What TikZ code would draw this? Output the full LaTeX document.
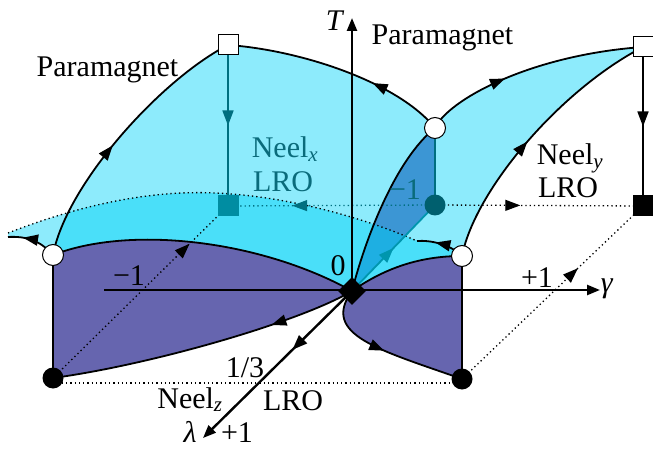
\documentclass[tikz,border=0pt]{standalone}
\usepackage{fontspec}
\setmainfont{Liberation Serif}
\usetikzlibrary{arrows.meta,decorations.markings,shapes.geometric,calc}
\definecolor{lcyan}{HTML}{8DEBFC}
\definecolor{bcyan}{HTML}{4ADFF9}
\definecolor{purp}{HTML}{6665AF}
\definecolor{lensup}{HTML}{3C96D4}
\definecolor{lenslow}{HTML}{1EAFE2}
\definecolor{tealtxt}{HTML}{0A6B7B}
\definecolor{tealline}{HTML}{006F80}
\definecolor{tealdot}{HTML}{005F6E}
\definecolor{tealsq}{HTML}{008DA2}
\definecolor{cyanline}{HTML}{0096AE}
\tikzset{
  tip/.style={-{Triangle[length=13pt,width=10pt]}},
  midarrow/.style={postaction={decorate},decoration={markings,mark=at position #1 with {\arrow{Triangle[length=15pt,width=11pt]}}}},
  curve/.style={line width=1.8pt,black},
  axis/.style={line width=2.4pt,black},
  dots/.style={line width=1.3pt,dash pattern=on 1.3pt off 3pt},
  wcirc/.style={circle,draw=black,line width=1pt,fill=white,minimum size=21pt,inner sep=0pt},
  bcirc/.style={circle,fill=black,minimum size=21pt,inner sep=0pt},
  tcirc/.style={circle,fill=tealdot,minimum size=21pt,inner sep=0pt},
  wsq/.style={rectangle,draw=black,line width=1pt,fill=white,minimum size=20pt,inner sep=0pt},
  bsq/.style={rectangle,fill=black,minimum size=21pt,inner sep=0pt},
  tsq/.style={rectangle,fill=tealsq,minimum size=21pt,inner sep=0pt},
  dia/.style={diamond,fill=black,minimum width=28pt,minimum height=28pt,inner sep=0pt},
  lbl/.style={font=\fontsize{30}{32}\selectfont,inner sep=0pt,anchor=base},
}
\begin{document}
\begin{tikzpicture}[x=1pt,y=-1pt]
\useasboundingbox (0,0) rectangle (653,449);
% key points
\coordinate (O) at (352,291);
\coordinate (LW) at (53,255);
\coordinate (LB) at (53,378);
\coordinate (RW) at (462,256);
\coordinate (RB) at (462,379);
\coordinate (CW) at (435,128);
\coordinate (TC) at (435,205);
\coordinate (SQ1) at (228,45);
\coordinate (TS) at (228,206);
\coordinate (SQ2) at (643,47);
\coordinate (BS) at (643,206);
\coordinate (LA) at (8,237);
\coordinate (RA) at (417,241);
\coordinate (DL) at (8,233);
\coordinate (DM) at (215,193);
\coordinate (Ttip) at (352,18);
\coordinate (Gl) at (104,290);
\coordinate (Gr) at (600,290);
\coordinate (Ltip) at (203,438);
\def\regionM{(LW) .. controls (66,185) and (160,80) .. (SQ1)
  .. controls (300,50) and (398,82) .. (CW)
  .. controls (448,100) and (530,55) .. (SQ2)
  .. controls (560,90) and (475,190) .. (RW)
  .. controls (420,256) and (385,268) .. (O)
  .. controls (260,240) and (130,225) .. (LW) -- cycle}
\def\regionD{(DL) .. controls (80,205) and (150,190) .. (DM)
  .. controls (290,196) and (370,220) .. (RA)
  .. controls (430,240) and (450,244) .. (RW)
  .. controls (420,256) and (385,268) .. (O)
  .. controls (260,240) and (130,225) .. (LW)
  .. controls (40,240) and (25,236) .. (LA) -- cycle}
\def\regionL{(O) .. controls (365,240) and (395,160) .. (CW) -- (TC) -- cycle}
% fills
\fill[lcyan] \regionM;
\fill[lcyan] \regionD;
\begin{scope}
  \clip \regionM;
  \fill[bcyan] \regionD;
\end{scope}
\fill[lensup] \regionL;
\begin{scope}
  \clip \regionL;
  \fill[lenslow] \regionD;
\end{scope}
\fill[purp] (LW) .. controls (130,225) and (260,240) .. (O)
  .. controls (300,322) and (150,365) .. (LB) -- cycle;
\fill[purp] (O) .. controls (385,268) and (420,256) .. (RW) -- (RB)
  .. controls (380,350) and (320,335) .. (O) -- cycle;
% dotted lines
\draw[dots] (DL) .. controls (80,205) and (150,190) .. (DM)
  .. controls (290,196) and (370,220) .. (RA);
\draw[dots,midarrow=0.78] (LB) -- (TS);
\draw[dots,midarrow=0.64] (RB) -- (BS);
\draw[dots] ($(LB)+(0,5)$) -- ($(RB)+(0,4)$);
\draw[dots,tealline,midarrow=0.69] (TC) -- (TS);
\draw[dots,midarrow=0.41] (TC) -- (BS);
% teal/black vertical lines
\draw[line width=1.6pt,tealline,midarrow=0.5] (SQ1) -- (TS);
\draw[line width=1.6pt,black,midarrow=0.5] (SQ2) -- (BS);
\draw[line width=1.6pt,tealline] (CW) -- (TC);
\draw[line width=1.8pt,cyanline,midarrow=0.5] (O) -- (TC);
% axes
\draw[axis,tip] (O) -- (Ttip);
\draw[axis,tip] (Gl) -- (Gr);
\draw[axis,tip,midarrow=0.4] (O) -- (Ltip);
% boundary curves
\draw[curve,midarrow=0.45] (LW) .. controls (66,185) and (160,80) .. (SQ1);
\draw[curve,midarrow=0.34] (CW) .. controls (398,82) and (300,50) .. (SQ1);
\draw[curve,midarrow=0.38] (CW) .. controls (448,100) and (530,55) .. (SQ2);
\draw[curve,midarrow=0.47] (RW) .. controls (475,190) and (560,90) .. (SQ2);
\draw[curve] (O) .. controls (365,240) and (395,160) .. (CW);
\draw[curve] (LW) .. controls (130,225) and (260,240) .. (O);
\draw[curve] (O) .. controls (385,268) and (420,256) .. (RW);
\draw[curve,midarrow=0.28] (O) .. controls (300,322) and (150,365) .. (LB);
\draw[curve,midarrow=0.5] (O) .. controls (320,335) and (380,350) .. (RB);
\draw[curve,midarrow=0.7] (LW) .. controls (40,240) and (25,236) .. (LA);
\draw[curve,midarrow=0.62] (RW) .. controls (450,244) and (430,240) .. (RA);
\draw[curve] (LW) -- (LB);
\draw[curve] (RW) -- (RB);
% markers
\node[wcirc] (mLW) at (LW) {};
\node[wcirc] (mRW) at (RW) {};
\node[wcirc] (mCW) at (CW) {};
\node[bcirc] (mLB) at (LB) {};
\node[bcirc] (mRB) at (RB) {};
\node[tcirc] (mTC) at (TC) {};
\node[wsq] (mSQ1) at (SQ1) {};
\node[wsq] (mSQ2) at (SQ2) {};
\node[tsq] (mTS) at (TS) {};
\node[bsq] (mBS) at (BS) {};
\node[dia] (mO) at (O) {};
% labels
\node[lbl] (tPL) at (107.5,77) {Paramagnet};
\node[lbl] (tPR) at (442.5,45) {Paramagnet};
\node[lbl] (tT) at (335,31) {\textit{T}};
\node[lbl,tealtxt] (tNx) at (285,158) {Neel\textsubscript{\textit{x}}};
\node[lbl,tealtxt] (tLx) at (283,192) {LRO};
\node[lbl] (tNy) at (570,165) {Neel\textsubscript{\textit{y}}};
\node[lbl] (tLy) at (568,198) {LRO};
\node[lbl] (tNz) at (190,408) {Neel\textsubscript{\textit{z}}};
\node[lbl] (tLz) at (293,410) {LRO};
\node[lbl] (t13) at (245,377) {1/3};
\node[lbl] (tlam) at (190,442) {\textit{λ}};
\node[lbl] (tp1b) at (237,442) {+1};
\node[lbl] (tm1) at (129,285) {−1};
\node[lbl] (t0) at (338,275) {0};
\node[lbl,tealtxt] (tm1t) at (405,200) {−1};
\node[lbl] (tp1r) at (537,287) {+1};
\node[lbl] (tgam) at (607,292) {\textit{γ}};
\end{tikzpicture}
\end{document}
